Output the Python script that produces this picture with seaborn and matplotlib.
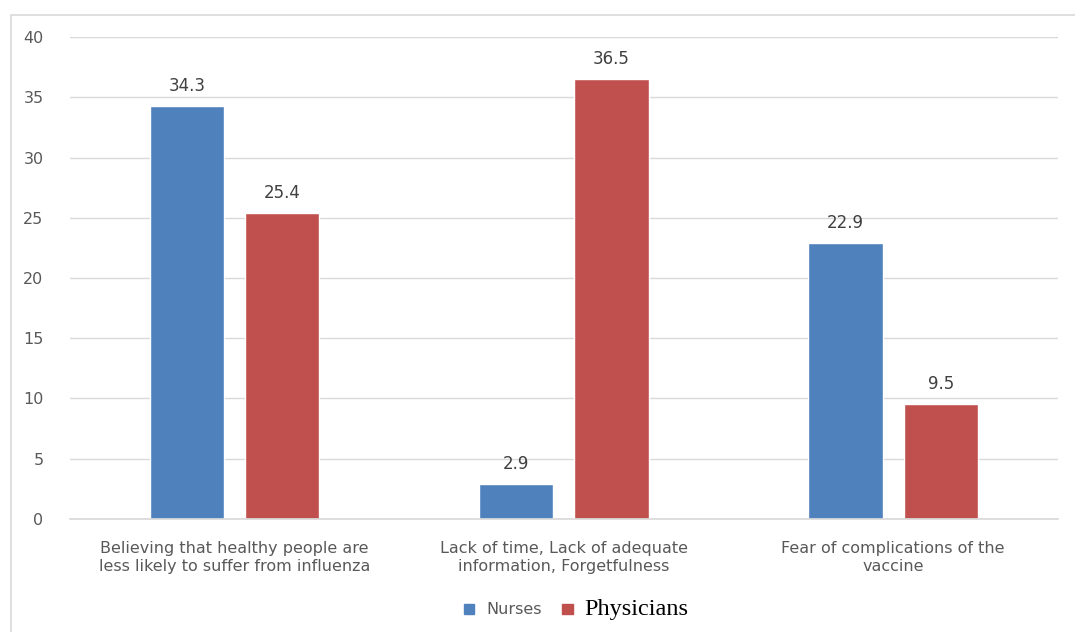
import matplotlib
matplotlib.use("Agg")
import matplotlib.pyplot as plt
import seaborn as sns
import pandas as pd
from matplotlib.patches import Rectangle

categories = [
    "Believing that healthy people are\nless likely to suffer from influenza",
    "Lack of time, Lack of adequate\ninformation, Forgetfulness",
    "Fear of complications of the\nvaccine",
]
groups = ["Nurses", "Physicians"]
nurses = [34.3, 2.9, 22.9]
physicians = [25.4, 36.5, 9.5]
yticks = [0, 5, 10, 15, 20, 25, 30, 35, 40]

df = pd.DataFrame({
    "reason": categories * 2,
    "group": [groups[0]] * 3 + [groups[1]] * 3,
    "value": nurses + physicians,
})

sns.set_theme(style="white")
plt.rcParams["font.family"] = ["DejaVu Sans"]

fig = plt.figure(figsize=(10.75, 6.32), dpi=100)
ax = fig.add_axes([0.065, 0.179, 0.919, 0.762])

# light outer chart frame (left and top edges visible)
fig.patches.append(Rectangle((11 / 1075, -0.2), 1.2, 1.2 - 15 / 632, transform=fig.transFigure,
                             fill=False, edgecolor="#d9d9d9", linewidth=1.2, zorder=0))

palette = {"Nurses": "#4F81BD", "Physicians": "#C0504D"}
sns.barplot(data=df, x="reason", y="value", hue="group", order=categories,
            hue_order=groups, palette=palette, width=0.578, gap=0.22,
            saturation=1, errorbar=None, ax=ax, legend=False)

for cont in ax.containers:
    ax.bar_label(cont, fmt="%.1f", padding=8, fontsize=12, color="#404040")

ax.set_ylim(0, 40)
ax.set_xlim(-0.5, 2.5)
ax.set_yticks(yticks)
ax.yaxis.grid(True, color="#d9d9d9", linewidth=1)
ax.set_axisbelow(True)
for s in ["left", "right", "top"]:
    ax.spines[s].set_visible(False)
ax.spines["bottom"].set_color("#d9d9d9")
ax.tick_params(axis="y", length=0, pad=19, labelsize=11.5, labelcolor="#595959")
ax.tick_params(axis="x", length=0, pad=16, labelsize=11.5, labelcolor="#595959")
for lbl in ax.get_xticklabels():
    lbl.set_linespacing(1.25)
ax.set_xlabel("")
ax.set_ylabel("")

handles = [Rectangle((0, 0), 1, 1, color=palette[g]) for g in groups]
leg = fig.legend(handles, groups, loc="center", bbox_to_anchor=(0.536, 1 - 609 / 632),
                 ncol=2, frameon=False, fontsize=11.5, handlelength=0.65, handleheight=0.65,
                 handletextpad=0.75, columnspacing=1.3)
t_n, t_p = leg.get_texts()
t_n.set_color("#595959")
t_p.set_family(["Liberation Serif", "DejaVu Serif"])
t_p.set_fontsize(17.5)
t_p.set_color("black")

fig.savefig("out.png", dpi=100)
